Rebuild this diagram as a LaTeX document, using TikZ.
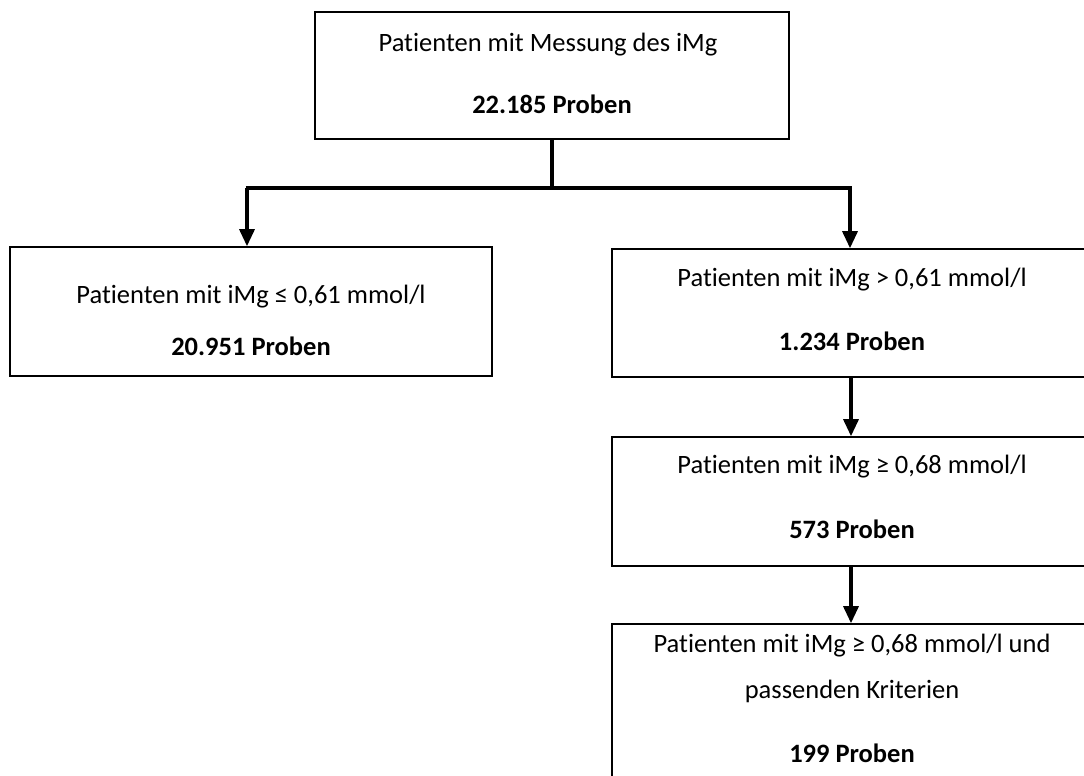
\documentclass[tikz,border=0pt]{standalone}
\usepackage{fontspec}
\setmainfont{Carlito}[Ligatures=NoCommon]
\usetikzlibrary{arrows.meta}
\tikzset{
  box/.style={draw=black, line width=1.6pt, rectangle, inner sep=0pt, fill=white},
  txt/.style={anchor=base, inner sep=0pt, font=\fontsize{26.5}{32}\selectfont},
  btxt/.style={txt, font=\fontsize{26.5}{32}\selectfont\bfseries},
  conn/.style={line width=3.2pt},
  bar/.style={line width=4pt},
  arr/.style={line width=3.2pt, -{Triangle[width=15pt,length=17pt]}}
}
\begin{document}
\begin{tikzpicture}[x=1pt,y=-1pt]
\useasboundingbox (0,0) rectangle (1084,776);
\fill[white] (0,0) rectangle (1084,776);
% boxes
\node[box, minimum width=474pt, minimum height=127pt] (top) at (552,75.5) {};
\node[box, minimum width=482pt, minimum height=129pt] (left) at (251,311.5) {};
\node[box, minimum width=478pt, minimum height=128pt] (right) at (851,313) {};
\node[box, minimum width=478pt, minimum height=129pt] (mid) at (851,501.5) {};
\node[box, minimum width=478pt, minimum height=176pt] (bot) at (851,712) {};
% texts
\node[txt] (t1) at (548,52) {Patienten mit Messung des iMg};
\node[btxt] (t2) at (552,113) {22.185 Proben};
\node[txt] (l1) at (251,303) {Patienten mit iMg ≤ 0,61 mmol/l};
\node[btxt] (l2) at (251,355) {20.951 Proben};
\node[txt] (r1) at (852,286) {Patienten mit iMg > 0,61 mmol/l};
\node[btxt] (r2) at (852,350) {1.234 Proben};
\node[txt] (m1) at (852,473) {Patienten mit iMg ≥ 0,68 mmol/l};
\node[btxt] (m2) at (852,538) {573 Proben};
\node[txt] (b1) at (852,652) {Patienten mit iMg ≥ 0,68 mmol/l und};
\node[txt] (b2) at (852,698) {passenden Kriterien};
\node[btxt] (b3) at (852,762) {199 Proben};
% connectors
\coordinate (j) at (552,188);
\coordinate (jl) at (247,188);
\coordinate (jr) at (850,188);
\draw[conn] (top.south) -- (j);
\draw[bar] ([xshift=-1.5pt]jl) -- ([xshift=1.5pt]jr);
\draw[arr] (jl) -- (jl |- left.north);
\draw[arr] (jr) -- (jr |- right.north);
\draw[arr] (right.south) -- (mid.north);
\draw[arr] (mid.south) -- (bot.north);
\end{tikzpicture}
\end{document}
